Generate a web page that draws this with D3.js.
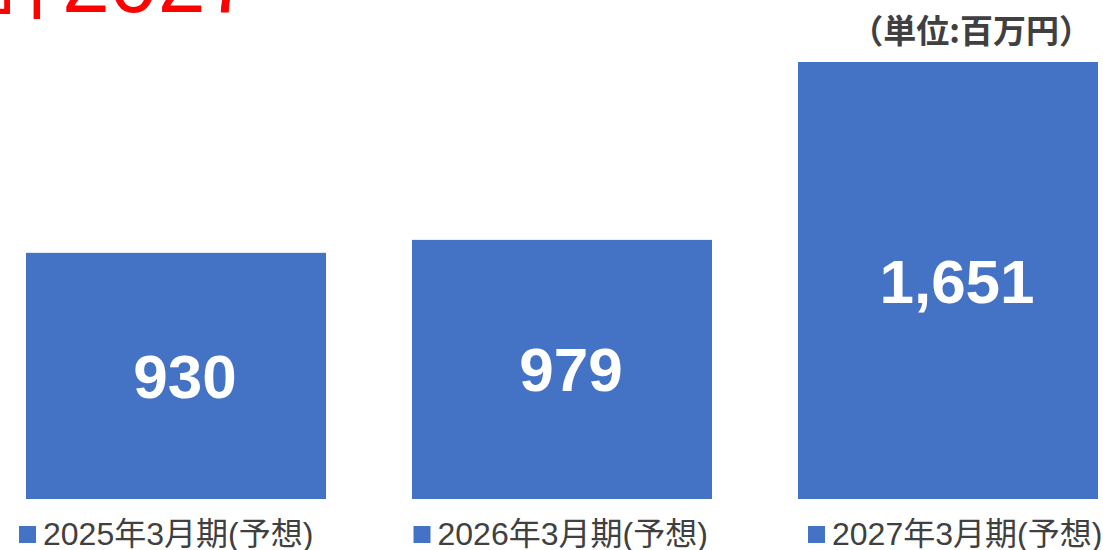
<!DOCTYPE html>
<html>
<head>
<meta charset="utf-8">
<script src="https://cdn.jsdelivr.net/npm/d3@7"></script>
<style>
  html, body { margin: 0; padding: 0; background: #fff; }
  svg { display: block; }
</style>
</head>
<body>
<script>
const categories = ["2025年3月期(予想)", "2026年3月期(予想)", "2027年3月期(予想)"];
const values = [930, 979, 1651];
const valueLabels = ["930", "979", "1,651"];
const unitLabel = "（単位:百万円）";
const titleFragment = "計2027";

const W = 1103, H = 550;
const barColor = "#4472C4";
const textGray = "#404040";
const latin = "'Liberation Sans', Arial, 'Noto Sans CJK JP', sans-serif";
const cjk = "'Noto Sans CJK JP', 'Liberation Sans', sans-serif";

const svg = d3.select("body").append("svg").attr("width", W).attr("height", H);

const x = d3.scaleBand().domain(categories).range([26, 1098]).paddingInner(86 / 386).paddingOuter(0);
const y = d3.scaleLinear().domain([0, 1651]).range([499, 62]);

// cut-off red title at top
svg.append("text")
  .attr("x", -24).attr("y", 12)
  .attr("fill", "#FF0000")
  .style("font-family", latin)
  .style("font-size", "86px")
  .text(titleFragment);

// unit label
svg.append("text")
  .attr("x", 1092).attr("y", 43)
  .attr("text-anchor", "end")
  .attr("fill", textGray)
  .style("font-family", cjk)
  .style("font-weight", "bold")
  .style("font-size", "33px")
  .text(unitLabel);

// bars
svg.selectAll("rect.bar").data(values).join("rect")
  .attr("class", "bar")
  .attr("x", (d, i) => x(categories[i]))
  .attr("y", d => y(d))
  .attr("width", x.bandwidth())
  .attr("height", d => y(0) - y(d))
  .attr("fill", barColor);

// value labels
svg.selectAll("text.val").data(values).join("text")
  .attr("class", "val")
  .attr("x", (d, i) => x(categories[i]) + x.bandwidth() / 2 + 9)
  .attr("y", d => (y(d) + y(0)) / 2 + 22)
  .attr("text-anchor", "middle")
  .attr("fill", "#fff")
  .style("font-family", latin)
  .style("font-weight", "bold")
  .style("font-size", "62px")
  .text((d, i) => valueLabels[i]);

// legend / category labels
const lx = d3.scalePoint().domain(categories).range([19, 808]);
const lg = svg.selectAll("g.leg").data(categories).join("g")
  .attr("class", "leg")
  .attr("transform", d => `translate(${lx(d)},0)`);
lg.append("rect").attr("x", 0).attr("y", 526).attr("width", 17).attr("height", 17).attr("fill", barColor);
lg.append("text")
  .attr("x", 24).attr("y", 545)
  .attr("fill", textGray)
  .style("font-family", latin)
  .style("font-size", "32px")
  .text(d => d);
</script>
</body>
</html>
